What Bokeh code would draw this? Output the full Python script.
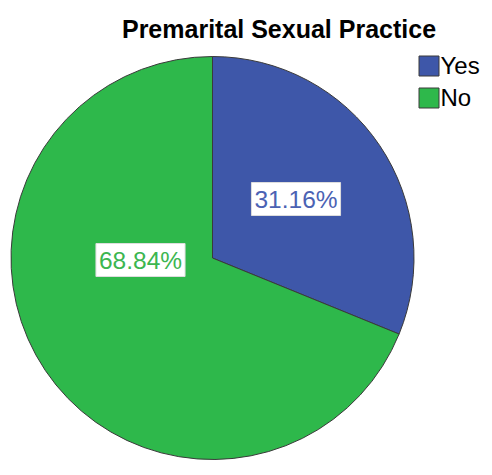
import numpy as np
from bokeh.plotting import figure
from bokeh.models import Range1d, Label, Legend, LegendItem, ColumnDataSource
from bokeh.embed import file_html
from bokeh.resources import INLINE

title = "Premarital Sexual Practice"
categories = ["Yes", "No"]
percents = [31.16, 68.84]
colors = ["#3E57A9", "#2EB84B"]
label_text_colors = ["#4B62B3", "#3CB650"]
# label offsets from pie centre (px)
label_offsets = [(83.5, 59.0), (-72.0, -2.0)]

W, H = 484, 467
FONT = "Liberation Sans"

p = figure(width=W, height=H, x_range=Range1d(0, W), y_range=Range1d(0, H),
           output_backend="svg", toolbar_location=None, min_border=0)
p.axis.visible = False
p.grid.visible = False
p.outline_line_color = None
p.background_fill_color = "white"

cx, cy, r = 212, 209.5, 201.5
fr = np.array(percents) / 100.0
ends = 2 * np.pi * np.cumsum(fr)
starts = ends - 2 * np.pi * fr
src = ColumnDataSource(dict(
    cat=categories,
    start=np.pi / 2 - starts,
    end=np.pi / 2 - ends,
    color=colors,
))
rend = p.wedge(x=cx, y=cy, radius=r, start_angle="start", end_angle="end",
               direction="clock", fill_color="color", line_color="#3a3a3a",
               line_width=1, source=src)

for i, cat in enumerate(categories):
    dx, dy = label_offsets[i]
    p.add_layout(Label(x=cx + dx, y=cy + dy, text="%.2f%%" % percents[i],
                       text_align="center", text_baseline="middle",
                       text_font=FONT, text_font_size="24.5px",
                       text_color=label_text_colors[i],
                       background_fill_color="white",
                       border_line_color="#dddddd", padding=3))

p.add_layout(Label(x=278.5, y=439, text=title, text_align="center",
                   text_baseline="alphabetic", text_font=FONT,
                   text_font_size="25px", text_font_style="bold",
                   text_color="black"))

legend = Legend(items=[LegendItem(label=c, renderers=[rend], index=i)
                       for i, c in enumerate(categories)],
                location=(415.5, 355.5), orientation="vertical",
                glyph_width=25, glyph_height=25, label_height=25,
                label_standoff=0, spacing=4, padding=0, margin=0,
                label_text_font=FONT, label_text_font_size="24px",
                label_text_color="black", label_text_baseline="middle",
                border_line_color=None, background_fill_alpha=0)
p.add_layout(legend)

open("out.html", "w").write(file_html(p, INLINE))
